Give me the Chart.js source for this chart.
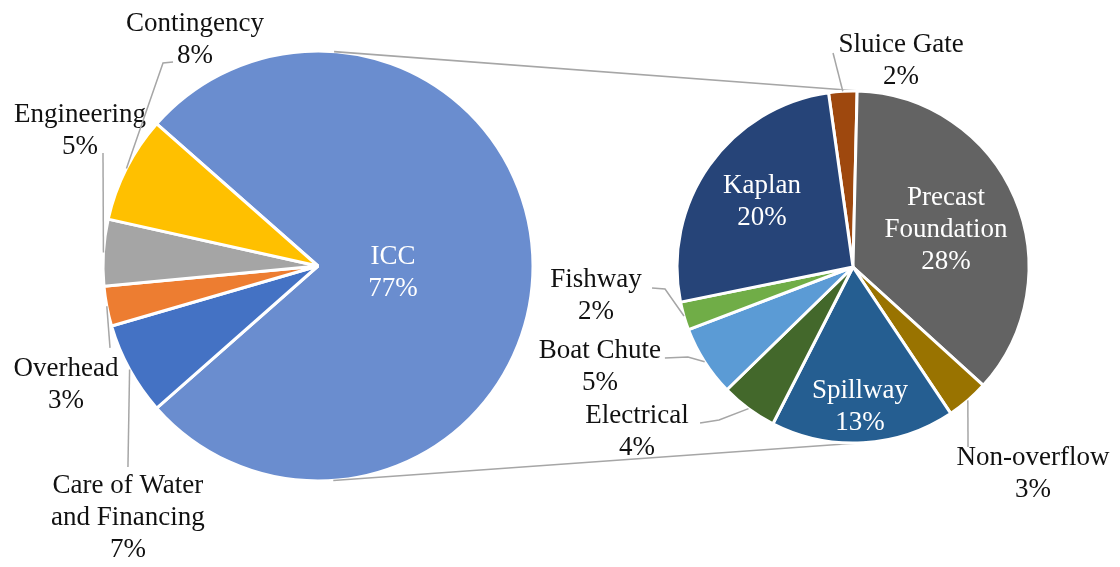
<!DOCTYPE html>
<html>
<head>
<meta charset="utf-8">
<script src="https://cdn.jsdelivr.net/npm/chart.js@4.4.1/dist/chart.umd.min.js"></script>
<style>
  html, body { margin: 0; padding: 0; background: #ffffff; }
  #wrap { position: relative; width: 1120px; height: 567px; overflow: hidden; }
  #wrap canvas { position: absolute; left: 0; top: 0; }
</style>
</head>
<body>
<div id="wrap">
  <canvas id="costPie" width="1120" height="567"></canvas>
  <canvas id="iccPie" width="1120" height="567"></canvas>
</div>
<script>
// ---- Total project cost (percent of total) ----
const costCategories = ['ICC', 'Care of Water\nand Financing', 'Overhead', 'Engineering', 'Contingency'];
const costValues = [77, 7, 3, 5, 8];

// ---- ICC breakdown (percent of total project cost) ----
const iccCategories = ['Sluice Gate', 'Precast\nFoundation', 'Non-overflow', 'Spillway', 'Electrical', 'Boat Chute', 'Fishway', 'Kaplan'];
const iccValues = [2, 28, 3, 13, 4, 5, 2, 20];

// ---- Colours ----
const costColors = ['#6A8DCF', '#4472C4', '#ED7D31', '#A5A5A5', '#FFC000'];
const iccColors = ['#9E480E', '#636363', '#997300', '#255E91', '#43682B', '#5B9BD5', '#70AD47', '#264478'];

// ---- Label placement: label centre in units of the pie radius, leader points in px from the label centre ----
const costPlacement = [
  { pos: [0.349, 0.033], inside: true },
  { pos: [-0.884, 1.172], leader: [[0, -51]] },
  { pos: [-1.172, 0.553], leader: [[44, -37]] },
  { pos: [-1.107, -0.630], leader: [[23, 22.5]] },
  { pos: [-0.572, -1.051], leader: [[-32, 23], [-22, 22]] }
];
const iccPlacement = [
  { pos: [0.273, -1.173], leader: [[-68, -7.5]] },
  { pos: [0.528, -0.213], inside: true },
  { pos: [1.023, 1.173], leader: [[-65, -26.5]] },
  { pos: [0.040, 0.793], inside: true },
  { pos: [-1.227, 0.935], leader: [[82, -11.5], [63, -8.5]] },
  { pos: [-1.438, 0.565], leader: [[88, -9.5], [65, -8.5]] },
  { pos: [-1.460, 0.165], leader: [[69, -7], [56, -8]] },
  { pos: [-0.517, -0.372], inside: true }
];

const labelFont = '27px "Liberation Serif", "Times New Roman", serif';
const lineHeight = 32;
const leaderColor = '#a6a6a6';

function drawSliceLabels(chart, categories, values, placement) {
  const ctx = chart.ctx;
  const meta = chart.getDatasetMeta(0);
  ctx.save();
  ctx.font = labelFont;
  ctx.textAlign = 'center';
  ctx.textBaseline = 'middle';
  meta.data.forEach((arc, i) => {
    const p = arc.getProps(['x', 'y', 'startAngle', 'endAngle', 'outerRadius'], true);
    const spec = placement[i];
    const cx = p.x + spec.pos[0] * p.outerRadius;
    const cy = p.y + spec.pos[1] * p.outerRadius;
    if (spec.leader) {
      const mid = (p.startAngle + p.endAngle) / 2;
      ctx.beginPath();
      ctx.moveTo(p.x + Math.cos(mid) * p.outerRadius, p.y + Math.sin(mid) * p.outerRadius);
      spec.leader.forEach(([dx, dy]) => ctx.lineTo(cx + dx, cy + dy));
      ctx.strokeStyle = leaderColor;
      ctx.lineWidth = 1.5;
      ctx.stroke();
    }
    const lines = categories[i].split('\n').concat(values[i] + '%');
    ctx.fillStyle = spec.inside ? '#ffffff' : '#111111';
    lines.forEach((t, k) => {
      ctx.fillText(t, cx, cy + (k - (lines.length - 1) / 2) * lineHeight);
    });
  });
  ctx.restore();
}

function pieOptions(padding) {
  return {
    responsive: false,
    animation: false,
    events: [],
    layout: { padding },
    plugins: { legend: { display: false }, tooltip: { enabled: false } }
  };
}

// Main pie: total cost
const costChart = new Chart(document.getElementById('costPie'), {
  type: 'pie',
  data: {
    labels: costCategories,
    datasets: [{
      data: costValues,
      backgroundColor: costColors,
      borderColor: '#ffffff',
      borderWidth: 3,
      rotation: -48.6,
      radius: 215
    }]
  },
  options: pieOptions({ left: 103, top: 51, right: 587, bottom: 86 }),
  plugins: [{
    id: 'costLabels',
    afterDatasetsDraw(chart) { drawSliceLabels(chart, costCategories, costValues, costPlacement); }
  }]
});

// Lines joining the ICC slice of the main pie to the breakdown pie (outer common tangents)
const connectorPlugin = {
  id: 'connectors',
  beforeDatasetsDraw(chart) {
    const a = costChart.getDatasetMeta(0).data[0].getProps(['x', 'y', 'outerRadius'], true);
    const b = chart.getDatasetMeta(0).data[0].getProps(['x', 'y', 'outerRadius'], true);
    const dx = b.x - a.x, dy = b.y - a.y, d = Math.hypot(dx, dy);
    const ux = dx / d, uy = dy / d;
    const k = (a.outerRadius - b.outerRadius) / d, h = Math.sqrt(1 - k * k);
    const ctx = chart.ctx;
    ctx.save();
    ctx.strokeStyle = leaderColor;
    ctx.lineWidth = 1.6;
    [-1, 1].forEach(s => {
      const nx = k * ux - s * h * uy, ny = k * uy + s * h * ux;
      ctx.beginPath();
      ctx.moveTo(a.x + a.outerRadius * nx, a.y + a.outerRadius * ny);
      ctx.lineTo(b.x + b.outerRadius * nx, b.y + b.outerRadius * ny);
      ctx.stroke();
    });
    ctx.restore();
  }
};

// Breakdown pie: ICC components
const iccChart = new Chart(document.getElementById('iccPie'), {
  type: 'pie',
  data: {
    labels: iccCategories,
    datasets: [{
      data: iccValues,
      backgroundColor: iccColors,
      borderColor: '#ffffff',
      borderWidth: 3,
      rotation: -8,
      radius: 176
    }]
  },
  options: pieOptions({ left: 677, top: 91, right: 91, bottom: 124 }),
  plugins: [connectorPlugin, {
    id: 'iccLabels',
    afterDatasetsDraw(chart) { drawSliceLabels(chart, iccCategories, iccValues, iccPlacement); }
  }]
});
</script>
</body>
</html>
